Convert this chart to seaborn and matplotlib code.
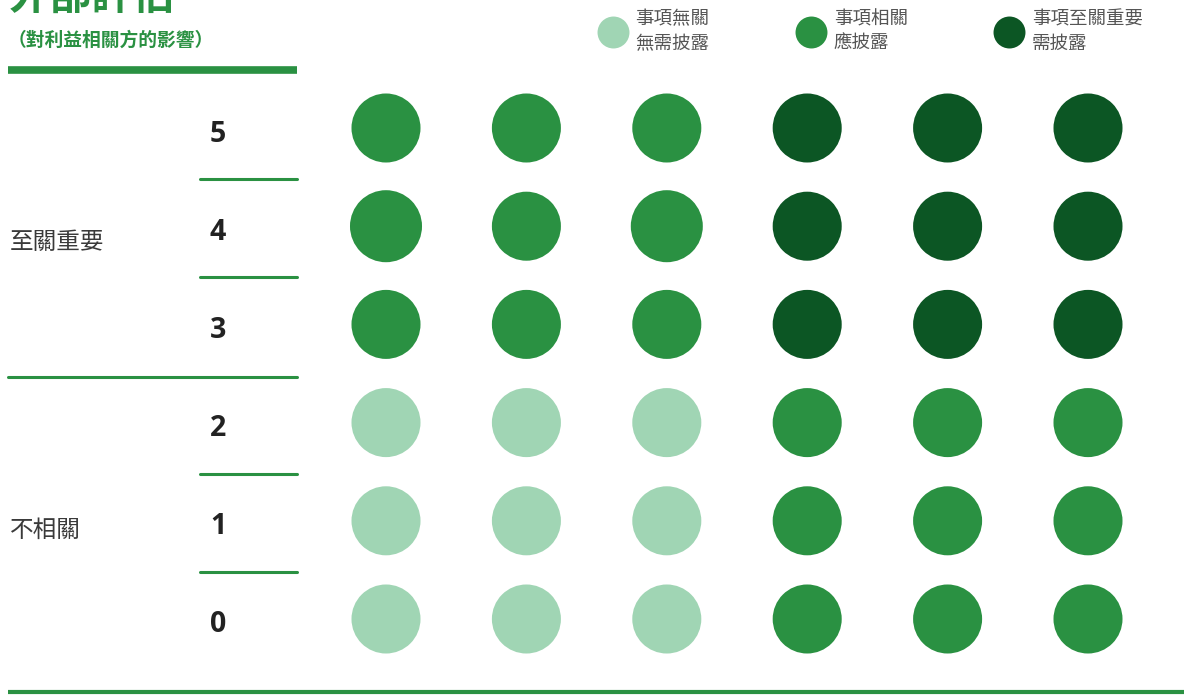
import matplotlib
matplotlib.use("Agg")
import matplotlib.pyplot as plt
import matplotlib.transforms as mtransforms
from matplotlib.lines import Line2D
import seaborn as sns
import pandas as pd

# ---------------- data ----------------
rows = [5, 4, 3, 2, 1, 0]                      # external assessment score
cols = [0, 1, 2, 3, 4, 5]                      # column positions (internal assessment)
levels = [                                     # materiality level per cell (rows top->bottom)
    ["相關", "相關", "相關", "至關重要", "至關重要", "至關重要"],
    ["相關", "相關", "相關", "至關重要", "至關重要", "至關重要"],
    ["相關", "相關", "相關", "至關重要", "至關重要", "至關重要"],
    ["無關", "無關", "無關", "相關", "相關", "相關"],
    ["無關", "無關", "無關", "相關", "相關", "相關"],
    ["無關", "無關", "無關", "相關", "相關", "相關"],
]
big = [(4, 0), (4, 2)]                         # slightly larger dots
level_order = ["無關", "相關", "至關重要"]
legend_labels = ["事項無關\n無需披露", "事項相關\n應披露", "事項至關重要\n需披露"]
group_labels = ["至關重要", "不相關"]
title = "外部評估"
subtitle = "（對利益相關方的影響）"

palette = {"無關": "#a0d5b4", "相關": "#2a9142", "至關重要": "#0c5624"}
GREEN = "#2a9142"

recs = []
for r, row_levels in zip(rows, levels):
    for c, lv in zip(cols, row_levels):
        recs.append({"x": c, "y": r, "level": lv,
                     "sz": "big" if (r, c) in big else "normal"})
df = pd.DataFrame(recs)

# ---------------- figure ----------------
sns.set_theme(style="white")
plt.rcParams["font.family"] = ["Noto Sans CJK TC", "DejaVu Sans"]

W, H = 1184, 695
fig = plt.figure(figsize=(W / 100, H / 100), dpi=100)
fig.patch.set_facecolor("white")

def fx(px):
    return px / W

def fy(py):
    return 1 - py / H

# axes: x -0.5..5.5 -> px 315.8..1158.2 ; y -0.5..5.5 -> px 668.1..78.9
ax = fig.add_axes([fx(315.8), fy(668.1), (1158.2 - 315.8) / W, (668.1 - 78.9) / H])
sns.scatterplot(data=df, x="x", y="y", hue="level", palette=palette,
                size="sz", sizes={"normal": 2470, "big": 2690},
                linewidth=0, legend=False, ax=ax, clip_on=False)
ax.set_xlim(-0.5, 5.5)
ax.set_ylim(-0.5, 5.5)
ax.axis("off")

blend = mtransforms.blended_transform_factory(fig.transFigure, ax.transData)
offs_num = mtransforms.ScaledTranslation(0, -6 / 100, fig.dpi_scale_trans)

# row numbers
for r in rows:
    ax.text(fx(218), r, str(r), transform=blend + offs_num, ha="center", va="center",
            fontsize=20.5, fontweight="bold", color="#222222",
            family=["Open Sans", "DejaVu Sans"])

# separators between rows
for yb in [4.48, 3.48, 1.48, 0.48]:
    ax.add_line(Line2D([fx(200), fx(297)], [yb, yb], transform=blend,
                       color=GREEN, lw=2.2, clip_on=False))
ax.add_line(Line2D([fx(8), fx(297)], [2.46, 2.46], transform=blend,
                   color=GREEN, lw=2.2, clip_on=False))

# group labels
ax.text(fx(10), 3.83, group_labels[0], transform=blend, ha="left", va="center",
        fontsize=17, color="#3a3a3a", fontweight=300)
ax.text(fx(10), 0.90, group_labels[1], transform=blend, ha="left", va="center",
        fontsize=17, color="#3a3a3a", fontweight=300)

# header
fig.text(fx(8), fy(-3), title, ha="left", va="center", fontsize=30,
         fontweight="bold", color=GREEN)
fig.text(fx(8), fy(40), subtitle, ha="left", va="center", fontsize=13.5,
         fontweight="bold", color=GREEN)
fig.add_artist(Line2D([fx(8), fx(297)], [fy(70), fy(70)], color=GREEN, lw=5.5,
                      solid_capstyle="butt"))
fig.add_artist(Line2D([fx(8), fx(1184)], [fy(692), fy(692)], color=GREEN, lw=3,
                      solid_capstyle="butt"))

# legend
handles = [Line2D([], [], marker="o", linestyle="", markersize=23,
                  markerfacecolor=palette[lv], markeredgewidth=0)
           for lv in level_order]
leg = fig.legend(handles, legend_labels, loc="upper left",
                 bbox_to_anchor=(fx(596), fy(10.5)), ncol=3, frameon=False,
                 borderpad=0, borderaxespad=0, handlelength=1.8,
                 handletextpad=0.33, columnspacing=4.6,
                 prop={"size": 13.3, "weight": 300}, labelcolor="#555555")
for t in leg.get_texts():
    t.set_linespacing(1.45)

fig.savefig("out.png", dpi=100, facecolor="white")
